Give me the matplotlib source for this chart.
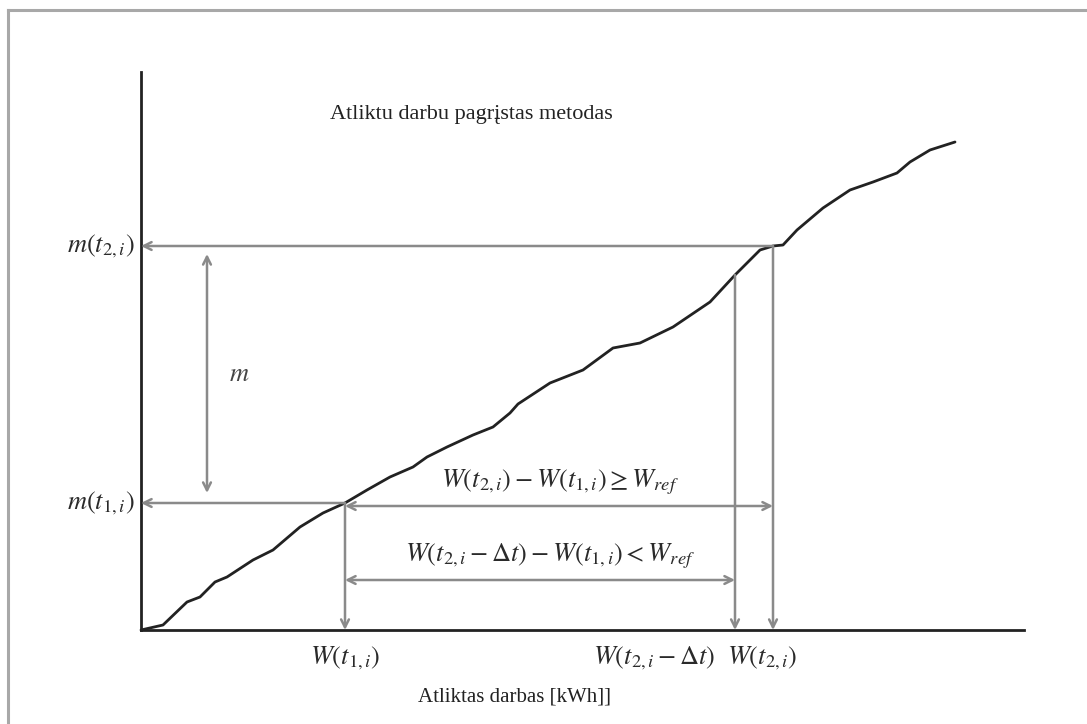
import matplotlib
matplotlib.use('Agg')
import matplotlib.pyplot as plt
from matplotlib.lines import Line2D

plt.rcParams['mathtext.fontset'] = 'stix'
plt.rcParams['font.family'] = 'Liberation Serif'

# cumulative work (kWh) vs cumulative mass
work = [0, 22, 46, 59, 74, 86, 112, 132, 159, 182, 204, 226, 249, 272, 286, 306,
        332, 352, 369, 377, 409, 442, 472, 499, 532, 569, 594, 619, 632, 642,
        656, 682, 709, 732, 756, 769, 789, 814]
mass = [0, 5, 28, 33, 48, 53, 70, 80, 103, 117, 127, 140, 153, 163, 173, 183,
        195, 203, 217, 226, 247, 260, 282, 287, 303, 328, 355, 380, 384, 385,
        400, 422, 440, 448, 457, 468, 480, 488]

# window boundaries
w_t1 = 204      # W(t1,i)
w_t2dt = 594    # W(t2,i - dt)
w_t2 = 632      # W(t2,i)
m_t1 = 127      # m(t1,i)
m_t2 = 384      # m(t2,i)
curve_at_t2dt = 355

x_end = 883
y_end = 558

title = 'Atliktu darbu pagrįstas metodas'
xlabel = 'Atliktas darbas [kWh]]'

fig = plt.figure(figsize=(10.87, 7.24), dpi=100)
ax = fig.add_axes([0, 0, 1, 1])
ax.set_xlim(-141, 946)
ax.set_ylim(-94, 630)
ax.axis('off')

# page frame (left and top edges)
fig.add_artist(Line2D([8 / 1087, 8 / 1087], [0, 1 - 10 / 724], color='#a8a8a8', lw=2.2))
fig.add_artist(Line2D([8 / 1087, 1], [1 - 10 / 724, 1 - 10 / 724], color='#a8a8a8', lw=2.2))

# axes
ax.plot([0, 0], [0, y_end], color='#222222', lw=2)
ax.plot([0, x_end], [0, 0], color='#222222', lw=2)

# cumulative curve
ax.plot(work, mass, color='#222222', lw=2, solid_capstyle='round', solid_joinstyle='round')

grey = '#8a8a8a'
one = dict(arrowstyle='->', color=grey, lw=1.8, shrinkA=0, shrinkB=0,
           mutation_scale=14)
two = dict(arrowstyle='<->', color=grey, lw=1.8, shrinkA=0, shrinkB=0,
           mutation_scale=14)

# horizontal guides to the mass axis
ax.annotate('', xy=(0, m_t2), xytext=(w_t2, m_t2), arrowprops=one)
ax.annotate('', xy=(0, m_t1), xytext=(w_t1, m_t1), arrowprops=one)

# vertical guides down to the work axis
ax.annotate('', xy=(w_t1, 0), xytext=(w_t1, m_t1), arrowprops=one)
ax.annotate('', xy=(w_t2dt, 0), xytext=(w_t2dt, curve_at_t2dt), arrowprops=one)
ax.annotate('', xy=(w_t2, 0), xytext=(w_t2, m_t2), arrowprops=one)

# mass difference m
ax.annotate('', xy=(66, m_t2 - 8), xytext=(66, m_t1 + 10), arrowprops=two)
ax.text(88, 255, r'$m$', fontsize=19, ha='left', va='center', color='#444444')

mfs = 19
ink = '#2a2a2a'

# work windows
ax.annotate('', xy=(w_t1, m_t1 - 3), xytext=(w_t2, m_t1 - 3), arrowprops=two)
ax.annotate('', xy=(w_t1, 50), xytext=(w_t2dt, 50), arrowprops=two)
ax.text(419, 148, r'$W(t_{2,i})-W(t_{1,i})\geq W_{ref}$', fontsize=mfs,
        ha='center', va='center', color=ink)
ax.text(409, 74, r'$W(t_{2,i}-\Delta t)-W(t_{1,i})<W_{ref}$', fontsize=mfs,
        ha='center', va='center', color=ink)

# axis marks
ax.text(-6, m_t2, r'$m(t_{2,i})$', fontsize=mfs, ha='right', va='center', color=ink)
ax.text(-6, m_t1, r'$m(t_{1,i})$', fontsize=mfs, ha='right', va='center', color=ink)
ax.text(w_t1, -28, r'$W(t_{1,i})$', fontsize=mfs, ha='center', va='center', color=ink)
ax.text(w_t2dt - 20, -28, r'$W(t_{2,i}-\Delta t)$', fontsize=mfs, ha='right', va='center',
        color=ink)
ax.text(w_t2 - 11, -28, r'$W(t_{2,i})$', fontsize=mfs, ha='center', va='center', color=ink)

ax.text(330, 515, title, fontsize=16, ha='center', va='center', color='#222222')
ax.text(373, -67, xlabel, fontsize=15, ha='center', va='center', color='#222222')

fig.savefig('out.png', dpi=100)
